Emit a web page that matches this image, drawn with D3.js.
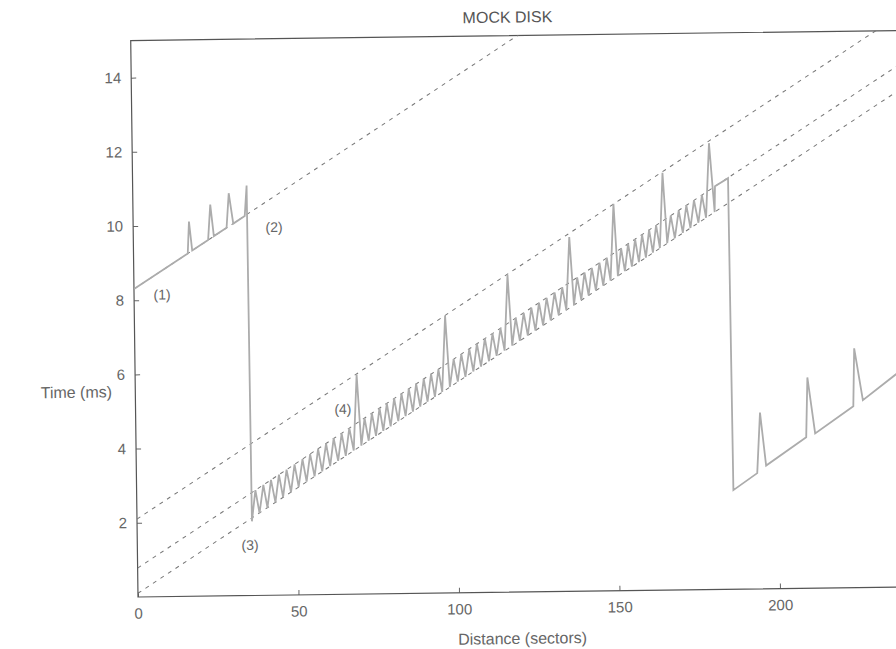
<!doctype html>
<html>
<head>
<style>
  body { margin: 0; background: #fff; }
  text { font-family: "Liberation Sans", Arial, sans-serif; }
</style>
<script src="https://d3js.org/d3.v7.min.js"></script>
</head>
<body>
<svg width="896" height="649"></svg>
<script>
// tick labels
var xTicks = [0, 50, 100, 150, 200];
var yTicks = [2, 4, 6, 8, 10, 12, 14];

// measured curve, [distance (sectors), time (ms)]
var track1 = [
  [0, 8.30], [16.9, 9.24], [17.4, 10.10], [18.3, 9.32],
  [23.3, 9.60], [24.1, 10.55], [25.1, 9.70],
  [29.1, 9.92], [29.9, 10.85], [31.2, 10.03],
  [34.8, 10.23], [35.5, 11.05], [35.8, 2.00]
];
var track2 = [
  [37.0, 2.84], [38.2, 2.22], [39.5, 2.98], [40.7, 2.36], [41.9, 3.11], [43.2, 2.50],
  [44.4, 3.25], [45.6, 2.64], [46.8, 3.38], [48.1, 2.77], [49.3, 3.52], [50.5, 2.91],
  [51.8, 3.66], [53.0, 3.05], [54.2, 3.79], [55.5, 3.19], [56.7, 3.93], [57.9, 3.32],
  [59.2, 4.07], [60.4, 3.46], [61.6, 4.21], [62.9, 3.60], [64.1, 4.34], [65.3, 3.73],
  [66.5, 4.48], [67.8, 3.87], [69.0, 5.92],
  [70.2, 4.00], [71.3, 4.74], [72.5, 4.13], [73.6, 4.87], [74.8, 4.26], [76.0, 5.01],
  [77.1, 4.39], [78.3, 5.13], [79.4, 4.51], [80.6, 5.26], [81.8, 4.65], [82.9, 5.39],
  [84.1, 4.78], [85.2, 5.52], [86.4, 4.90], [87.5, 5.65], [88.7, 5.03], [89.9, 5.78],
  [91.0, 5.16], [92.2, 5.91], [93.3, 5.29], [94.5, 6.03], [95.6, 5.42], [96.8, 7.47],
  [98.0, 5.55], [99.3, 6.30], [100.5, 5.69], [101.7, 6.43], [102.9, 5.82], [104.2, 6.57],
  [105.4, 5.96], [106.6, 6.71], [107.8, 6.09], [109.1, 6.85], [110.3, 6.23], [111.5, 6.98],
  [112.7, 6.37], [114.0, 7.12], [115.2, 6.51], [116.4, 8.55],
  [117.6, 6.64], [118.8, 7.39], [120.0, 6.77], [121.3, 7.52], [122.5, 6.91], [123.7, 7.66],
  [124.9, 7.04], [126.1, 7.79], [127.3, 7.18], [128.5, 7.92], [129.7, 7.31], [131.0, 8.06],
  [132.2, 7.45], [133.4, 8.20], [134.6, 7.58], [135.8, 9.55],
  [137.0, 7.72], [138.1, 8.46], [139.3, 7.85], [140.4, 8.59], [141.6, 7.97], [142.7, 8.71],
  [143.9, 8.10], [145.1, 8.85], [146.2, 8.23], [147.4, 8.98], [148.5, 8.36], [149.7, 10.43],
  [150.8, 8.48], [151.9, 9.23], [153.0, 8.61], [154.1, 9.35], [155.2, 8.73], [156.3, 9.47],
  [157.4, 8.85], [158.5, 9.59], [159.6, 8.97], [160.7, 9.72], [161.8, 9.10], [162.9, 9.84],
  [164.0, 9.22], [165.1, 11.25],
  [166.3, 9.35], [167.5, 10.09], [168.7, 9.48], [170.0, 10.23], [171.2, 9.62], [172.4, 10.37],
  [173.6, 9.75], [174.8, 10.50], [176.1, 9.89], [177.3, 10.64], [178.5, 10.02], [179.7, 12.03],
  [181.2, 10.17], [181.4, 10.87], [185.5, 11.08]
];
var track3 = [
  [185.9, 2.67], [193.4, 3.12], [194.5, 4.75], [196.2, 3.32],
  [208.8, 4.07], [209.4, 5.68], [211.6, 4.17],
  [223.6, 4.89], [224.1, 6.45], [226.6, 5.05],
  [238.0, 5.80]
];

// dashed reference lines, start and end points
var guideLines = [
  [[0, 8.30], [240, 21.64]],
  [[0, 2.10], [240, 15.44]],
  [[0, 0.78], [240, 14.12]],
  [[0, 0.10], [240, 13.44]]
];

// numbered notes, placed in data units
var notes = [
  { text: "(1)", x: 8.7, t: 8.14 },
  { text: "(2)", x: 43.9, t: 9.92 },
  { text: "(3)", x: 35.1, t: 1.36 },
  { text: "(4)", x: 64.6, t: 4.99 }
];

var svg = d3.select("svg"),
    originX = 138,
    originY = 597,
    width = 240 * 3.21,
    height = 15 * 37.1;

// the scanned page sits a little tilted
var g = svg.append("g")
    .attr("transform", "rotate(-0.75," + originX + "," + originY + ") translate(" + originX + "," + (originY - height) + ")");

var x = d3.scaleLinear().domain([0, 240]).range([0, width]);
var y = d3.scaleLinear().domain([0, 15]).range([height, 0]);

g.append("clipPath").attr("id", "plot-clip")
  .append("rect")
    .attr("width", width)
    .attr("height", height);

var xAxis = g.append("g")
    .attr("transform", "translate(0," + height + ")")
    .call(d3.axisBottom(x).tickValues(xTicks).tickSizeInner(-5).tickSizeOuter(0).tickPadding(11));
xAxis.select(".domain").remove();

var yAxis = g.append("g")
    .call(d3.axisLeft(y).tickValues(yTicks).tickSizeInner(-5).tickSizeOuter(0).tickPadding(10));
yAxis.select(".domain").remove();

[xAxis, yAxis].forEach(function(a) {
  a.attr("color", "#666")
   .attr("font-family", "'Liberation Sans', Arial, sans-serif")
   .attr("font-size", 15);
  a.selectAll("text").attr("fill", "#666");
});

g.append("rect")
    .attr("width", width)
    .attr("height", height)
    .attr("fill", "none")
    .attr("stroke", "#555")
    .attr("stroke-width", 1.2);

var line = d3.line()
    .x(function(d) { return x(d[0]); })
    .y(function(d) { return y(d[1]); });

var plot = g.append("g").attr("clip-path", "url(#plot-clip)");

plot.selectAll(".guide")
  .data(guideLines)
  .enter().append("path")
    .attr("class", "guide")
    .attr("d", line)
    .attr("fill", "none")
    .attr("stroke", "#777")
    .attr("stroke-width", 1)
    .attr("stroke-dasharray", "4,5");

plot.append("path")
    .datum(track1.concat(track2, track3))
    .attr("d", line)
    .attr("fill", "none")
    .attr("stroke", "#acacac")
    .attr("stroke-width", 1.8)
    .attr("stroke-linejoin", "miter");

g.selectAll(".note")
  .data(notes)
  .enter().append("text")
    .attr("class", "note")
    .attr("x", function(d) { return x(d.x); })
    .attr("y", function(d) { return y(d.t); })
    .attr("dy", "0.35em")
    .attr("text-anchor", "middle")
    .attr("font-size", 14)
    .attr("fill", "#666")
    .text(function(d) { return d.text; });

g.append("text")
    .attr("x", 377)
    .attr("y", -13)
    .attr("text-anchor", "middle")
    .attr("font-size", 16)
    .attr("fill", "#555")
    .text("MOCK DISK");

g.append("text")
    .attr("x", -59)
    .attr("y", height - 200)
    .attr("text-anchor", "middle")
    .attr("font-size", 16)
    .attr("fill", "#666")
    .text("Time (ms)");

g.append("text")
    .attr("x", 384)
    .attr("y", height + 52)
    .attr("text-anchor", "middle")
    .attr("font-size", 16)
    .attr("fill", "#666")
    .text("Distance (sectors)");
</script>
</body>
</html>
